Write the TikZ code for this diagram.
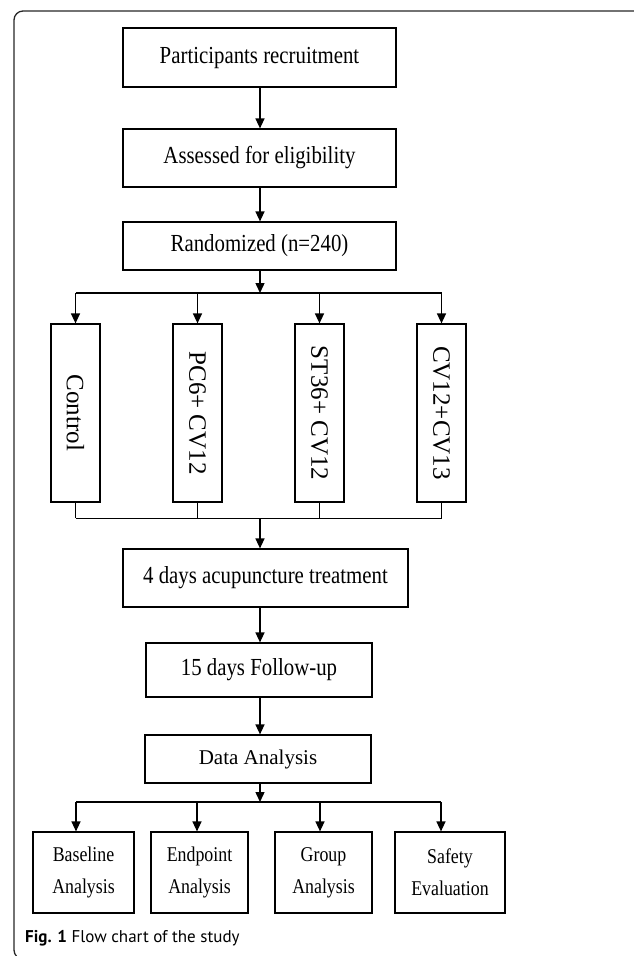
\documentclass[tikz,border=0pt]{standalone}
\usepackage{fontspec}
\setmainfont{Liberation Serif}
\newfontfamily\narrowserif[FakeStretch=0.85]{Liberation Serif}
\newfontfamily\capfont{PT Sans}
\usetikzlibrary{arrows.meta}
\begin{document}
\begin{tikzpicture}[x=1pt,y=-1pt,
  box/.style={draw=black,line width=1.2pt,inner sep=0pt,align=center},
  hbox/.style={box,font=\narrowserif\fontsize{24.5}{28}\selectfont},
  vbox/.style={box,minimum width=49,minimum height=178,font=\fontsize{25}{30}\selectfont},
  lbox/.style={box,minimum height=81,font=\narrowserif\fontsize{21}{32}\selectfont},
  arr/.style={line width=1.4pt,-{Triangle[length=10pt,width=9pt]}},
  ln/.style={line width=1.4pt},
  thinln/.style={line width=1pt}]
\useasboundingbox (0,0) rectangle (633,956);
% frame
\draw[line width=1.3pt,black!85,rounded corners=9] (640,11) -- (14,11) -- (14,959) -- (40,959);
% top chain
\node[hbox,minimum width=273,minimum height=59] (b1) at (259.5,57.5) {Participants recruitment};
\node[hbox,minimum width=273,minimum height=58] (b2) at (259.5,158) {Assessed for eligibility};
\node[hbox,minimum width=273,minimum height=48] (b3) at (259.5,246) {Randomized (n=240)};
\coordinate (j1) at (260,293);
\draw[arr] (b1.south -| j1) -- (b2.north -| j1);
\draw[arr] (b2.south -| j1) -- (b3.north -| j1);
\draw[arr] (b3.south -| j1) -- (j1);
% group boxes
\node[vbox] (g1) at (75.5,413) {\rotatebox{-90}{Control}};
\node[vbox] (g2) at (197.5,413) {\rotatebox{-90}{PC6+ CV12}};
\node[vbox] (g3) at (319.5,413) {\rotatebox{-90}{ST36+ CV12}};
\node[vbox] (g4) at (441.5,413) {\rotatebox{-90}{CV12+CV13}};
\draw[ln] (g1.north |- j1) -- (g4.north |- j1);
\foreach \g in {g1,g2,g3,g4} \draw[arr] (\g.north |- j1) -- (\g.north);
% merge
\coordinate (j2) at (260,518);
\foreach \g in {g1,g2,g3,g4} \draw[thinln] (\g.south) -- (\g.south |- j2);
\draw[thinln] (g1.south |- j2) -- (g4.south |- j2);
\node[hbox,minimum width=285,minimum height=58] (b4) at (265.5,578) {4 days acupuncture treatment};
\node[hbox,minimum width=226,minimum height=54] (b5) at (259,670) {15 days Follow-up};
\node[box,minimum width=226,minimum height=48,font=\fontsize{21}{26}\selectfont] (b6) at (258,759) {Data Analysis};
\draw[arr] (j2) -- (b4.north -| j2);
\draw[arr] (b4.south -| j2) -- (b5.north -| j2);
\draw[arr] (b5.south -| j2) -- (b6.north -| j2);
\coordinate (j3) at (260,802);
\draw[arr] (b6.south -| j3) -- (j3);
% analysis boxes
\node[lbox,minimum width=101] (a1) at (83.5,872.5) {Baseline\\Analysis};
\node[lbox,minimum width=97] (a2) at (199.5,872.5) {Endpoint\\Analysis};
\node[lbox,minimum width=97] (a3) at (323.5,872.5) {Group\\Analysis};
\node[lbox,minimum width=110] (a4) at (450,872.5) {Safety\\Evaluation};
\coordinate (d1) at (76,802);
\coordinate (d2) at (197,802);
\coordinate (d3) at (320,802);
\coordinate (d4) at (441,802);
\draw[ln] (d1) -- (d4);
\draw[arr] (d1) -- (d1 |- a1.north);
\draw[arr] (d2) -- (d2 |- a2.north);
\draw[arr] (d3) -- (d3 |- a3.north);
\draw[arr] (d4) -- (d4 |- a4.north);
% caption
\node[anchor=base west,inner sep=0pt,font=\capfont\fontsize{17}{20}\selectfont] (cap) at (25,942) {\textbf{Fig. 1} Flow chart of the study};
\end{tikzpicture}
\end{document}
